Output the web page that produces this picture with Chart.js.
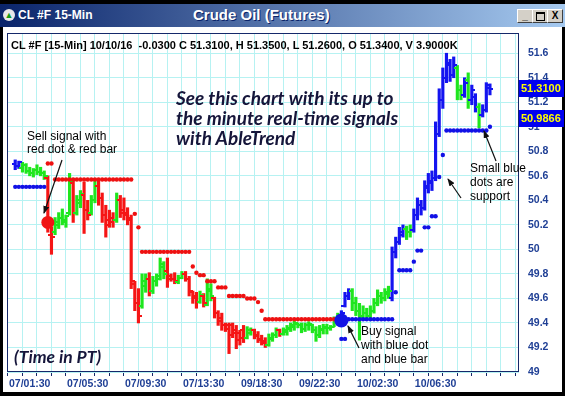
<!DOCTYPE html>
<html>
<head>
<meta charset="utf-8">
<script src="https://cdn.jsdelivr.net/npm/chart.js@4.4.1/dist/chart.umd.min.js"></script>
<style>
  html, body { margin: 0; padding: 0; }
  body { width: 565px; height: 396px; background: #000; position: relative; overflow: hidden; font-family: "Liberation Sans", Arial, sans-serif; }
  .abs { position: absolute; white-space: pre; }
  #panel { left: 3px; top: 27px; width: 559px; height: 365px; background: #fff; }
  #titlebar { left: 0; top: 4px; width: 565px; height: 23px; background: linear-gradient(to right, #0a246a, #a6caf0); }
  .btn { top: 9px; width: 14px; height: 12px; background: #d4d0c8; border: 1px solid; border-color: #fff #404040 #404040 #fff; font: bold 10px "Liberation Sans", Arial; text-align: center; line-height: 12px; color: #000; }
  .note { font-size: 12px; color: #000; }
  .promo { font: italic bold 19px Lato, sans-serif; color: #15153a; line-height: 20px; }
  .pbox { left: 519px; width: 43px; height: 17px; background: #0000f0; color: #ffff00; font: bold 11px "Liberation Sans", Arial; line-height: 17px; padding-left: 2px; overflow: hidden; }
</style>
</head>
<body>
<div id="panel" class="abs"></div>
<div id="titlebar" class="abs">
  <div class="abs" style="left:3px;top:5px;width:12px;height:12px;border-radius:6px;background:#e8e8e8;color:#169b16;font-size:9px;line-height:12px;text-align:center">▲</div>
  <div class="abs" style="left:18px;top:3px;color:#fff;font:bold 12px 'Liberation Sans',Arial;line-height:16px">CL #F 15-Min</div>
  <div class="abs" style="left:193px;top:2px;color:#fff;font:bold 15px 'Liberation Sans',Arial;line-height:18px;text-shadow:1px 1px 0 #0a246a">Crude Oil (Futures)</div>
  <div class="abs btn" style="left:517px;top:5px">_</div>
  <div class="abs btn" style="left:532px;top:5px"><div style="margin:2px auto 0;width:7px;height:6px;border:1px solid #000;border-top-width:2px"></div></div>
  <div class="abs btn" style="left:547px;top:5px">X</div>
</div>
<canvas id="chart" class="abs" width="565" height="396" style="left:0;top:0"></canvas>

<div class="abs" style="left:11px;top:39px;font:bold 11px 'Liberation Sans',Arial;color:#000">CL #F [15-Min] 10/10/16  -0.0300 C 51.3100, H 51.3500, L 51.2600, O 51.3400, V 3.9000K</div>
<div class="abs promo" style="left:176px;top:88px">See this chart with its up to
the minute real-time signals
with AbleTrend</div>
<div class="abs promo" style="left:14px;top:347px;font-size:17.5px">(Time in PT)</div>
<div class="abs note" style="left:27px;top:130px;line-height:13px">Sell signal with
red dot &amp; red bar</div>
<div class="abs note" style="left:361px;top:324px;line-height:14px">Buy signal
with blue dot
and blue bar</div>
<div class="abs note" style="left:470px;top:161px;line-height:14px">Small blue
dots are
support</div>
<div id="box1" class="abs pbox">51.3100</div>
<div id="box2" class="abs pbox">50.9866</div>

<svg class="abs" style="left:0;top:0" width="565" height="396">
  <defs>
    <marker id="head" markerWidth="8" markerHeight="6" refX="7" refY="3" orient="auto" markerUnits="userSpaceOnUse">
      <path d="M0,0 L8,3 L0,6 z" fill="#111"/>
    </marker>
  </defs>
  <g stroke="#111" stroke-width="1.2" marker-end="url(#head)">
    <line x1="62" y1="160" x2="44" y2="213"/>
    <line x1="359" y1="348" x2="348" y2="326"/>
    <line x1="496" y1="161" x2="484" y2="131"/>
    <line x1="461" y1="198" x2="448" y2="179"/>
  </g>
</svg>

<script>
// 15-min bars, index 0 = first bar on screen
const opens = [50.70,50.68,50.66,50.69,50.64,50.62,50.65,50.63,50.62,50.58,
  50.12,50.14,50.20,50.26,50.22,50.30,50.54,50.30,50.38,50.44,
  50.32,50.30,50.40,50.52,50.42,50.28,50.24,50.26,50.24,50.40,
  50.32,50.30,50.24,49.72,49.56,49.54,49.70,49.76,49.66,49.74,
  49.76,49.86,49.82,49.78,49.76,49.73,49.77,49.80,49.76,49.65,
  49.62,49.57,49.62,49.55,49.66,49.60,49.48,49.44,49.38,49.38,
  49.38,49.34,49.32,49.34,49.28,49.32,49.34,49.30,49.27,49.25,
  49.22,49.27,49.30,49.34,49.31,49.33,49.35,49.37,49.39,49.38,
  49.35,49.38,49.38,49.34,49.30,49.34,49.36,49.36,49.37,49.42,
  49.40,49.54,49.62,49.66,49.56,49.50,49.46,49.48,49.46,49.50,
  49.56,49.62,49.60,49.64,49.60,49.98,50.06,50.12,50.17,50.14,
  50.16,50.28,50.36,50.34,50.50,50.54,50.58,50.94,51.22,51.40,
  51.50,51.42,51.48,51.30,51.26,51.38,51.22,51.24,51.16,51.10,
  51.14,51.34];
const highs = [50.73,50.72,50.71,50.70,50.67,50.66,50.69,50.67,50.64,50.60,
  50.18,50.26,50.30,50.33,50.28,50.62,50.58,50.44,50.48,50.55,
  50.40,50.44,50.58,50.56,50.46,50.36,50.32,50.30,50.46,50.44,
  50.42,50.34,50.28,49.74,49.68,49.80,49.80,49.81,49.78,49.80,
  49.93,49.90,49.93,49.80,49.81,49.79,49.82,49.82,49.78,49.66,
  49.65,49.66,49.64,49.76,49.72,49.61,49.50,49.48,49.40,49.40,
  49.40,49.38,49.34,49.38,49.37,49.36,49.35,49.33,49.30,49.28,
  49.31,49.32,49.36,49.35,49.36,49.38,49.40,49.42,49.40,49.40,
  49.40,49.41,49.39,49.37,49.38,49.39,49.39,49.38,49.45,49.48,
  49.50,49.65,49.68,49.68,49.61,49.56,49.54,49.52,49.54,49.60,
  49.67,49.65,49.68,49.70,50.02,50.10,50.18,50.20,50.19,50.20,
  50.33,50.42,50.40,50.56,50.62,50.64,51.04,51.31,51.48,51.60,
  51.55,51.57,51.50,51.34,51.40,51.44,51.34,51.27,51.19,51.18,
  51.36,51.35];
const lows = [50.65,50.66,50.63,50.62,50.60,50.59,50.61,50.60,50.57,50.14,
  49.96,50.12,50.17,50.20,50.18,50.28,50.22,50.28,50.34,50.13,
  50.24,50.28,50.38,50.36,50.22,50.10,50.18,50.18,50.22,50.26,
  50.24,50.20,49.68,49.50,49.40,49.52,49.65,49.62,49.64,49.70,
  49.75,49.76,49.69,49.74,49.72,49.72,49.76,49.74,49.62,49.56,
  49.52,49.56,49.53,49.54,49.58,49.44,49.38,49.34,49.33,49.15,
  49.28,49.19,49.22,49.24,49.27,49.30,49.27,49.24,49.22,49.20,
  49.21,49.25,49.28,49.29,49.30,49.30,49.33,49.34,49.36,49.32,
  49.33,49.34,49.32,49.25,49.28,49.31,49.31,49.34,49.37,49.40,
  49.37,49.53,49.59,49.50,49.46,49.26,49.44,49.42,49.44,49.48,
  49.54,49.56,49.58,49.60,49.58,49.93,50.04,50.10,50.08,50.10,
  50.14,50.24,50.28,50.32,50.46,50.48,50.56,50.92,51.15,51.36,
  51.37,51.40,51.22,51.22,51.24,51.15,51.18,51.12,50.99,51.08,
  51.12,51.26];
const closes = [50.68,50.71,50.69,50.64,50.62,50.65,50.63,50.62,50.60,50.22,
  50.10,50.22,50.26,50.24,50.27,50.56,50.30,50.40,50.45,50.32,
  50.28,50.40,50.52,50.42,50.28,50.20,50.22,50.24,50.40,50.30,
  50.28,50.26,49.74,49.56,49.46,49.74,49.76,49.66,49.74,49.78,
  49.88,49.80,49.76,49.76,49.74,49.77,49.80,49.76,49.66,49.60,
  49.57,49.63,49.56,49.68,49.62,49.48,49.42,49.38,49.35,49.30,
  49.32,49.26,49.28,49.28,49.34,49.34,49.29,49.26,49.24,49.22,
  49.28,49.30,49.34,49.31,49.34,49.36,49.38,49.40,49.38,49.35,
  49.38,49.39,49.34,49.30,49.35,49.37,49.36,49.37,49.42,49.46,
  49.48,49.62,49.66,49.56,49.50,49.44,49.48,49.46,49.50,49.56,
  49.62,49.60,49.65,49.66,49.98,50.06,50.14,50.17,50.14,50.16,
  50.28,50.36,50.34,50.52,50.56,50.58,50.94,51.22,51.40,51.52,
  51.42,51.50,51.30,51.26,51.36,51.22,51.30,51.16,51.10,51.14,
  51.32,51.31];
// r = sell trend, g = neutral, b = buy trend
const barColor = ('bbgggggggr' + 'rgggggrggr' + 'rggrrrrrgr' + 'rrrrrggrgg' + 'ggrrrggrrr' +
  'rgrggrrrrr' + 'rrrrggrrrr' + 'gggrgggggg' + 'gggggggggg' + 'bbbggggggg' +
  'ggggbbbbgg' + 'bbbbbbbbbb' + 'bbggbgbbgb' + 'bb').split('');

// stop dots
const redStop = [null,null,null,null,null,null,null,null,null,50.70,
  50.70,50.57,50.57,50.57,50.57,50.57,50.57,50.57,50.57,50.57,
  50.57,50.57,50.57,50.57,50.57,50.57,50.57,50.57,50.57,50.57,
  50.57,50.57,50.57,50.29,50.18,49.98,49.98,49.98,49.98,49.98,
  49.98,49.98,49.98,49.98,49.98,49.98,49.98,49.98,49.98,49.86,
  49.81,49.79,49.79,49.74,49.74,49.74,49.69,49.69,49.69,49.62,
  49.62,49.62,49.62,49.62,49.60,49.60,49.60,49.57,49.50,49.43,
  49.43,49.43,49.43,49.43,49.43,49.43,49.43,49.43,49.43,49.43,
  49.43,49.43,49.43,49.43,49.43,49.43,49.43,49.43,49.43,49.43];
const blueStop = [50.51,50.51,50.51,50.51,50.51,50.51,50.51,50.51,50.51,null,
  null,null,null,null,null,null,null,null,null,null,
  null,null,null,null,null,null,null,null,null,null,
  null,null,null,null,null,null,null,null,null,null,
  null,null,null,null,null,null,null,null,null,null,
  null,null,null,null,null,null,null,null,null,null,
  null,null,null,null,null,null,null,null,null,null,
  null,null,null,null,null,null,null,null,null,null,
  null,null,null,null,null,null,null,null,null,null,
  49.27,49.27,49.43,49.43,49.43,49.43,49.43,49.43,49.43,49.43,
  49.43,49.43,49.43,49.43,49.43,49.65,49.83,49.83,49.83,49.83,
  49.90,49.99,49.99,50.18,50.18,50.27,50.27,50.59,50.77,50.97,
  50.97,50.97,50.97,50.97,50.97,50.97,50.97,50.97,50.97,50.97,
  50.97,51.00];

const sellSignal = { index: 9, price: 50.22 };
const buySignal = { index: 90, price: 49.42 };
const lastPrice = 51.31;
const supportPrice = 50.9866;

const xLabels = ['07/01:30', '07/05:30', '07/09:30', '07/13:30', '09/18:30', '09/22:30', '10/02:30', '10/06:30'];
const xLabelIdx = [4, 20, 36, 52, 68, 84, 100, 116];
const yTicks = [49, 49.2, 49.4, 49.6, 49.8, 50, 50.2, 50.4, 50.6, 50.8, 51, 51.2, 51.4, 51.6];

const ohlcColor = { r: '#f51515', g: '#1ee61e', b: '#1414f0' };
const axisBlue = '#1f3f95';
const gridCyan = '#b6f2f2';

// open tick on the left, close tick on the right
function tickImage(color, side) {
    const c = document.createElement('canvas');
    c.width = 7;
    c.height = 2;
    const g = c.getContext('2d');
    g.fillStyle = color;
    g.fillRect(side === 'open' ? 0 : 3, 0, 4, 2);
    return c;
}
const openTick = {}, closeTick = {};
for (const k in ohlcColor) {
    openTick[k] = tickImage(ohlcColor[k], 'open');
    closeTick[k] = tickImage(ohlcColor[k], 'close');
}

const pts = (arr) => arr.map((v, i) => ({ x: i, y: v }));
const labelAt = {};
xLabelIdx.forEach((v, i) => { labelAt[v] = xLabels[i]; });
const gridIdx = [];
for (let v = 0; v <= 136; v += 4) gridIdx.push(v);

const frame = {
    id: 'frame',
    beforeDatasetsDraw(chart) {
        const { ctx, chartArea: a } = chart;
        ctx.save();
        ctx.strokeStyle = '#15286a';
        ctx.lineWidth = 1;
        ctx.strokeRect(Math.round(a.left) + 0.5, Math.round(a.top) + 0.5,
            Math.round(a.right - a.left) - 1, Math.round(a.bottom - a.top) - 1);
        ctx.restore();
    }
};

const ctx = document.getElementById('chart').getContext('2d');
const chart = new Chart(ctx, {
    type: 'bar',
    data: {
        datasets: [{
            type: 'scatter',
            data: [{ x: sellSignal.index, y: sellSignal.price }],
            pointRadius: 6.5,
            backgroundColor: '#f01414',
            borderWidth: 0,
            order: 0
        }, {
            type: 'scatter',
            data: [{ x: buySignal.index, y: buySignal.price }],
            pointRadius: 7,
            backgroundColor: '#1414e6',
            borderWidth: 0,
            order: 0
        }, {
            type: 'line',
            data: pts(redStop),
            showLine: false,
            pointRadius: 2.2,
            backgroundColor: '#ee1111',
            borderWidth: 0,
            order: 1
        }, {
            type: 'line',
            data: pts(blueStop),
            showLine: false,
            pointRadius: 2.2,
            backgroundColor: '#1111e6',
            borderWidth: 0,
            order: 1
        }, {
            type: 'line',
            data: pts(opens),
            showLine: false,
            pointRadius: 2,
            pointStyle: (c) => openTick[barColor[c.dataIndex]],
            order: 2
        }, {
            type: 'line',
            data: pts(closes),
            showLine: false,
            pointRadius: 2,
            pointStyle: (c) => closeTick[barColor[c.dataIndex]],
            order: 2
        }, {
            type: 'bar',
            data: highs.map((h, i) => ({ x: i, y: [lows[i], h] })),
            backgroundColor: (c) => ohlcColor[barColor[c.dataIndex]],
            borderWidth: 0,
            barThickness: 2.5,
            order: 3
        }]
    },
    options: {
        responsive: false,
        animation: false,
        layout: { padding: { top: 33, left: 7, right: 0, bottom: 0 } },
        plugins: { legend: { display: false }, tooltip: { enabled: false } },
        scales: {
            x: {
                type: 'linear',
                min: -0.25,
                max: 137,
                afterBuildTicks: (s) => { s.ticks = gridIdx.map(v => ({ value: v })); },
                afterFit: (s) => { s.height = 24; },
                grid: { color: gridCyan, tickColor: '#15286a', tickLength: 4 },
                border: { display: false },
                ticks: {
                    autoSkip: false,
                    maxRotation: 0,
                    padding: 2,
                    color: axisBlue,
                    font: { family: '"Liberation Sans", Arial', size: 10.5, weight: 'bold' },
                    callback: (v) => labelAt[v] || ''
                }
            },
            y: {
                position: 'right',
                min: 49,
                max: 51.765,
                afterBuildTicks: (s) => { s.ticks = yTicks.map(v => ({ value: v })); },
                afterFit: (s) => { s.width = 46; },
                grid: { color: gridCyan, drawTicks: false },
                border: { display: false },
                ticks: {
                    padding: 9,
                    color: axisBlue,
                    font: { family: '"Liberation Sans", Arial', size: 10.5, weight: 'bold' },
                    callback: (v) => String(v)
                }
            }
        }
    },
    plugins: [frame]
});

// price tags on the right axis
const yScale = chart.scales.y;
document.getElementById('box1').style.top = (yScale.getPixelForValue(lastPrice) - 8.5) + 'px';
document.getElementById('box2').style.top = (yScale.getPixelForValue(supportPrice) - 18.5) + 'px';
</script>
</body>
</html>
